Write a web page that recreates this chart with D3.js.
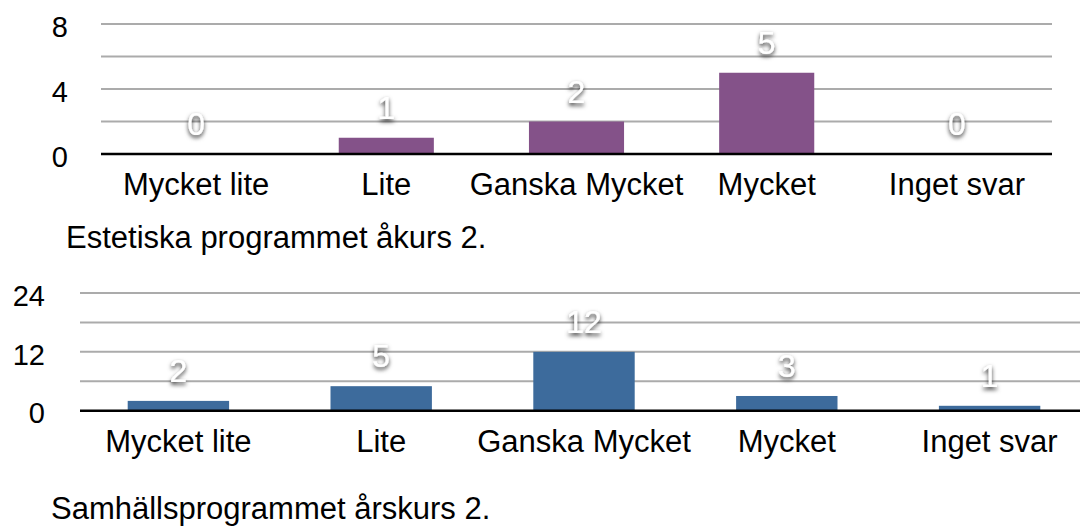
<!DOCTYPE html>
<html>
<head>
<meta charset="utf-8">
<script src="https://cdn.jsdelivr.net/npm/d3@7/dist/d3.min.js"></script>
<style>
  html, body { margin: 0; padding: 0; background: #fff; }
  svg { display: block; }
  text { font-family: "Liberation Sans", Arial, Helvetica, sans-serif; }
</style>
</head>
<body>
<svg id="chart" width="1080" height="528"></svg>
<script>
// ---- Data ----
const categories = ["Mycket lite", "Lite", "Ganska Mycket", "Mycket", "Inget svar"];
const estetiskaValues = [0, 1, 2, 5, 0];
const samhallValues = [2, 5, 12, 3, 1];
const estetiskaTicks = [0, 4, 8];
const estetiskaGrid = [0, 2, 4, 6, 8];
const samhallTicks = [0, 12, 24];
const samhallGrid = [0, 6, 12, 18, 24];
const estetiskaTitle = "Estetiska programmet åkurs 2.";
const samhallTitle = "Samhällsprogrammet årskurs 2.";

const svg = d3.select("#chart");

// drop shadow filter for value labels
const defs = svg.append("defs");
const f = defs.append("filter").attr("id", "shadow")
  .attr("x", "-50%").attr("y", "-50%").attr("width", "200%").attr("height", "200%");
f.append("feDropShadow").attr("dx", 0).attr("dy", 2.5).attr("stdDeviation", 2)
  .attr("flood-color", "#000").attr("flood-opacity", 0.85);

function drawChart(cfg) {
  const g = svg.append("g");
  const x = d3.scaleBand().domain(categories).range(cfg.xRange)
    .paddingInner(0.5).paddingOuter(0.25);
  const y = d3.scaleLinear().domain(cfg.yDomain).range(cfg.yRange);

  // gridlines
  g.selectAll("line.grid").data(cfg.grid.filter(d => d !== 0)).enter()
    .append("line").attr("class", "grid")
    .attr("x1", cfg.gridX[0]).attr("x2", cfg.gridX[1])
    .attr("y1", d => y(d)).attr("y2", d => y(d))
    .attr("stroke", "#ababab").attr("stroke-width", 2);

  // y tick labels via axis
  const yAxis = d3.axisLeft(y).tickValues(cfg.ticks).tickSize(0).tickPadding(0);
  const ya = g.append("g").attr("transform", `translate(${cfg.tickX},0)`).call(yAxis);
  ya.select(".domain").remove();
  ya.selectAll("text")
    .attr("font-size", 29).attr("fill", "#000")
    .attr("font-family", "'Liberation Sans', Arial, sans-serif")
    .attr("dy", "0.42em");

  // bars
  g.selectAll("rect.bar").data(cfg.values).enter()
    .append("rect").attr("class", "bar")
    .attr("x", (d, i) => x(categories[i]))
    .attr("width", x.bandwidth())
    .attr("y", d => y(d))
    .attr("height", d => y(0) - y(d))
    .attr("fill", cfg.color);

  // baseline axis
  g.append("line")
    .attr("x1", cfg.gridX[0]).attr("x2", cfg.gridX[1])
    .attr("y1", y(0)).attr("y2", y(0))
    .attr("stroke", "#000").attr("stroke-width", 2.5);

  // category labels
  g.selectAll("text.cat").data(categories).enter()
    .append("text").attr("class", "cat")
    .attr("x", d => x(d) + x.bandwidth() / 2)
    .attr("y", cfg.catY)
    .attr("text-anchor", "middle")
    .attr("font-size", 31).attr("fill", "#000")
    .text(d => d);

  // value labels
  g.selectAll("text.val").data(cfg.values).enter()
    .append("text").attr("class", "val")
    .attr("x", (d, i) => x(categories[i]) + x.bandwidth() / 2)
    .attr("y", d => y(d) - 19)
    .attr("text-anchor", "middle")
    .attr("font-size", 32).attr("fill", "#fff")
    .attr("filter", "url(#shadow)")
    .text(d => d);

  // title
  g.append("text")
    .attr("x", cfg.titleX).attr("y", cfg.titleY)
    .attr("font-size", 31).attr("fill", "#000")
    .text(cfg.title);
}

drawChart({
  values: estetiskaValues, ticks: estetiskaTicks, grid: estetiskaGrid,
  xRange: [101, 1052], yDomain: [0, 8], yRange: [154, 24],
  gridX: [101, 1052], tickX: 68, color: "#845289",
  catY: 195, title: estetiskaTitle, titleX: 66, titleY: 248
});

drawChart({
  values: samhallValues, ticks: samhallTicks, grid: samhallGrid,
  xRange: [77, 1091], yDomain: [0, 24], yRange: [410.7, 293],
  gridX: [80, 1080], tickX: 45, color: "#3d6b9c",
  catY: 452, title: samhallTitle, titleX: 51, titleY: 519
});
</script>
</body>
</html>
